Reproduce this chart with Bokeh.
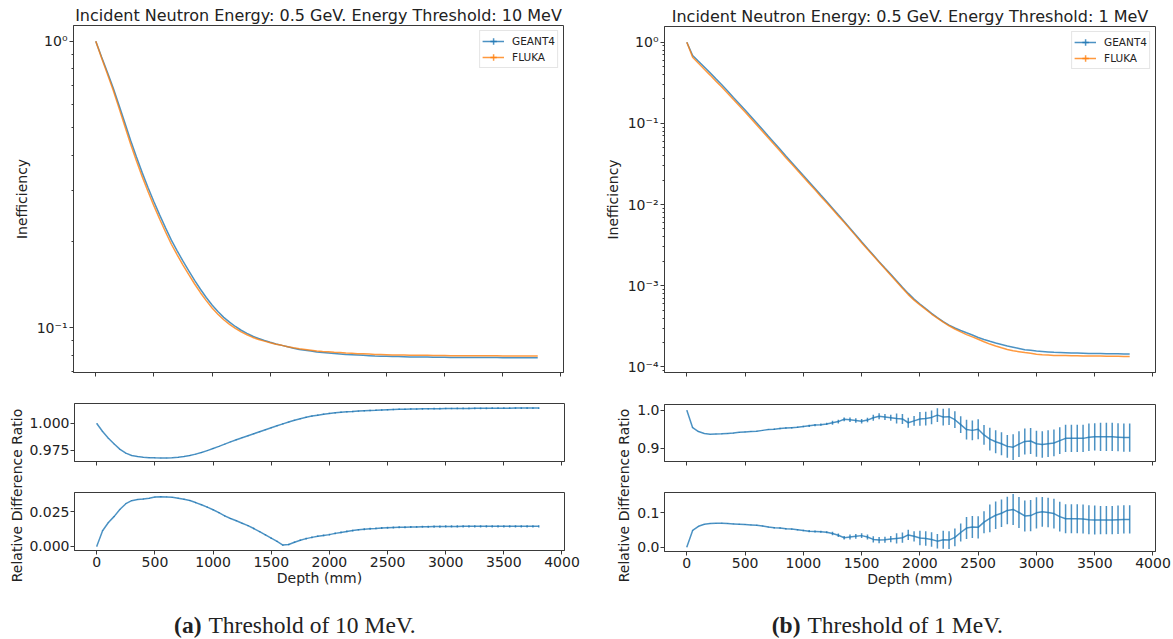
import numpy as np
from bokeh.plotting import figure
from bokeh.models import (Range1d, FixedTicker, CustomJSTickFormatter, Label,
                          Legend, LegendItem, Whisker, ColumnDataSource)
from bokeh.layouts import row, column
from bokeh.embed import file_html
from bokeh.resources import INLINE

# ---------------- data ----------------
DEPTH = [0, 50, 100, 150, 200, 250, 300, 350, 400, 450,
         500, 550, 600, 650, 700, 750, 800, 850, 900, 950,
         1000, 1050, 1100, 1150, 1200, 1250, 1300, 1350, 1400, 1450,
         1500, 1550, 1600, 1650, 1700, 1750, 1800, 1850, 1900, 1950,
         2000, 2050, 2100, 2150, 2200, 2250, 2300, 2350, 2400, 2450,
         2500, 2550, 2600, 2650, 2700, 2750, 2800, 2850, 2900, 2950,
         3000, 3050, 3100, 3150, 3200, 3250, 3300, 3350, 3400, 3450,
         3500, 3550, 3600, 3650, 3700, 3750, 3800]

# (a) threshold 10 MeV
A_GEANT4 = [1.0, 0.881, 0.780, 0.687, 0.598, 0.519, 0.450, 0.394, 0.347, 0.308,
            0.275, 0.247, 0.223, 0.202, 0.1854, 0.1706, 0.1578, 0.1462, 0.1361, 0.1274,
            0.1199, 0.1138, 0.1086, 0.1045, 0.1009, 0.0979, 0.0955, 0.0933, 0.0916, 0.0902,
            0.0889, 0.0877, 0.0867, 0.0857, 0.0847, 0.0839, 0.0834, 0.0828, 0.0822, 0.0818,
            0.0815, 0.0812, 0.0809, 0.0806, 0.0804, 0.0802, 0.0800, 0.0798, 0.0796, 0.0795,
            0.0794, 0.0793, 0.0792, 0.0791, 0.0790, 0.0790, 0.0789, 0.0789, 0.0788, 0.0788,
            0.0788, 0.0787, 0.0787, 0.0787, 0.0787, 0.0786, 0.0786, 0.0786, 0.0786, 0.0786,
            0.0785, 0.0785, 0.0785, 0.0785, 0.0785, 0.0785, 0.0785]
A_FLUKA = [1.0, 0.874, 0.769, 0.674, 0.584, 0.505, 0.4365, 0.3818, 0.336, 0.2981,
           0.2661, 0.2390, 0.2158, 0.1955, 0.1795, 0.1653, 0.1531, 0.1420, 0.1324, 0.1242,
           0.1171, 0.1114, 0.1065, 0.1027, 0.0994, 0.0966, 0.0944, 0.0924, 0.0909, 0.0897,
           0.0885, 0.0875, 0.0867, 0.0858, 0.0850, 0.0843, 0.0839, 0.0834, 0.0828, 0.0825,
           0.0823, 0.0820, 0.0818, 0.0815, 0.0813, 0.0811, 0.0810, 0.0808, 0.0806, 0.0805,
           0.0804, 0.0803, 0.0803, 0.0802, 0.0801, 0.0801, 0.0800, 0.0800, 0.0799, 0.0799,
           0.0799, 0.0798, 0.0798, 0.0798, 0.0798, 0.0797, 0.0797, 0.0797, 0.0797, 0.0797,
           0.0796, 0.0796, 0.0796, 0.0796, 0.0796, 0.0796, 0.0796]
A_RATIO = [1.0000, 0.9925, 0.9862, 0.9808, 0.9758, 0.9722, 0.9700, 0.9690, 0.9684, 0.9680,
           0.9678, 0.9677, 0.9677, 0.9679, 0.9683, 0.9690, 0.9700, 0.9713, 0.9728, 0.9746,
           0.9766, 0.9786, 0.9807, 0.9828, 0.9848, 0.9867, 0.9885, 0.9904, 0.9923, 0.9942,
           0.9960, 0.9978, 0.9996, 1.0013, 1.0031, 1.0045, 1.0058, 1.0069, 1.0078, 1.0087,
           1.0094, 1.0100, 1.0105, 1.0109, 1.0112, 1.0116, 1.0119, 1.0122, 1.0124, 1.0127,
           1.0129, 1.0131, 1.0133, 1.0134, 1.0135, 1.0136, 1.0137, 1.0138, 1.0139, 1.0139,
           1.0140, 1.0140, 1.0141, 1.0141, 1.0141, 1.0142, 1.0142, 1.0142, 1.0143, 1.0143,
           1.0143, 1.0143, 1.0144, 1.0144, 1.0144, 1.0144, 1.0144]
A_RATIO_ERR = [0.0002, 0.0002, 0.0002, 0.0002, 0.0002, 0.0002, 0.0003, 0.0003, 0.0003, 0.0003,
               0.0003, 0.0003, 0.0003, 0.0003, 0.0003, 0.0003, 0.0004, 0.0004, 0.0004, 0.0004,
               0.0004, 0.0004, 0.0004, 0.0004, 0.0004, 0.0004, 0.0005, 0.0005, 0.0005, 0.0005,
               0.0005, 0.0005, 0.0005, 0.0005, 0.0005, 0.0005, 0.0006, 0.0006, 0.0006, 0.0006,
               0.0006, 0.0006, 0.0006, 0.0006, 0.0006, 0.0006, 0.0007, 0.0007, 0.0007, 0.0007,
               0.0007, 0.0007, 0.0007, 0.0007, 0.0007, 0.0007, 0.0008, 0.0008, 0.0008, 0.0008,
               0.0008, 0.0008, 0.0008, 0.0008, 0.0008, 0.0008, 0.0008, 0.0008, 0.0008, 0.0008,
               0.0008, 0.0008, 0.0008, 0.0008, 0.0008, 0.0008, 0.0008]
A_DIFF = [0.0000, 0.0112, 0.0172, 0.0216, 0.0268, 0.0308, 0.0330, 0.0338, 0.0342, 0.0347,
          0.0356, 0.0358, 0.0357, 0.0354, 0.0348, 0.0340, 0.0331, 0.0316, 0.0300, 0.0283,
          0.0264, 0.0243, 0.0220, 0.0201, 0.0184, 0.0166, 0.0149, 0.0128, 0.0106, 0.0082,
          0.0058, 0.0035, 0.0008, 0.0012, 0.0029, 0.0043, 0.0055, 0.0064, 0.0072, 0.0078,
          0.0084, 0.0093, 0.0100, 0.0107, 0.0113, 0.0119, 0.0123, 0.0127, 0.0129, 0.0132,
          0.0134, 0.0136, 0.0137, 0.0138, 0.0139, 0.0140, 0.0141, 0.0141, 0.0142, 0.0142,
          0.0143, 0.0143, 0.0143, 0.0144, 0.0144, 0.0144, 0.0144, 0.0144, 0.0144, 0.0144,
          0.0144, 0.0144, 0.0144, 0.0144, 0.0144, 0.0144, 0.0144]
A_DIFF_ERR = [0.0002, 0.0002, 0.0002, 0.0002, 0.0002, 0.0002, 0.0003, 0.0003, 0.0003, 0.0003,
              0.0003, 0.0003, 0.0003, 0.0003, 0.0003, 0.0003, 0.0004, 0.0004, 0.0004, 0.0004,
              0.0004, 0.0004, 0.0004, 0.0004, 0.0004, 0.0004, 0.0005, 0.0005, 0.0005, 0.0005,
              0.0005, 0.0005, 0.0005, 0.0005, 0.0005, 0.0005, 0.0006, 0.0006, 0.0006, 0.0006,
              0.0006, 0.0006, 0.0006, 0.0006, 0.0006, 0.0006, 0.0007, 0.0007, 0.0007, 0.0007,
              0.0007, 0.0007, 0.0007, 0.0007, 0.0007, 0.0007, 0.0008, 0.0008, 0.0008, 0.0008,
              0.0008, 0.0008, 0.0008, 0.0008, 0.0008, 0.0008, 0.0008, 0.0008, 0.0008, 0.0008,
              0.0008, 0.0008, 0.0008, 0.0008, 0.0008, 0.0008, 0.0008]

# (b) threshold 1 MeV
B_GEANT4 = [1.0, 0.684, 0.582, 0.4955, 0.419, 0.353, 0.2985, 0.2506, 0.2089, 0.1746,
            0.1459, 0.1216, 0.1009, 0.0838, 0.0695, 0.0577, 0.0479, 0.0397, 0.0330, 0.0274,
            0.0228, 0.0190, 0.0158, 0.0131, 0.0109, 0.00902, 0.00746, 0.00618, 0.00511, 0.00422,
            0.00348, 0.00288, 0.00239, 0.00198, 0.00165, 0.00138, 0.00115, 0.000955, 0.000804, 0.000684,
            0.000596, 0.000521, 0.000457, 0.000405, 0.000361, 0.000327, 0.000301, 0.000281, 0.000263, 0.000247,
            0.000230, 0.000218, 0.000207, 0.000197, 0.000189, 0.000181, 0.000175, 0.000169, 0.000163, 0.000160,
            0.000157, 0.000155, 0.000153, 0.000151, 0.000150, 0.000149, 0.000148, 0.000148, 0.000147, 0.000146,
            0.000146, 0.000146, 0.000145, 0.000145, 0.000145, 0.000144, 0.000144]
B_FLUKA = [1.0, 0.653, 0.549, 0.465, 0.393, 0.331, 0.280, 0.2353, 0.1964, 0.1645,
           0.1376, 0.1148, 0.0954, 0.0794, 0.0660, 0.0548, 0.0456, 0.0378, 0.0315, 0.0262,
           0.0218, 0.0182, 0.0152, 0.0126, 0.0105, 0.00872, 0.00724, 0.00603, 0.00498, 0.00411,
           0.00338, 0.00281, 0.00234, 0.00195, 0.00162, 0.00135, 0.00112, 0.000933, 0.000777, 0.000665,
           0.000582, 0.000510, 0.000448, 0.000400, 0.000355, 0.000321, 0.000293, 0.000270, 0.000250, 0.000234,
           0.000219, 0.000204, 0.000191, 0.000181, 0.000172, 0.000164, 0.000158, 0.000154, 0.000150, 0.000147,
           0.000143, 0.000141, 0.000140, 0.000138, 0.000138, 0.000138, 0.000137, 0.000137, 0.000136, 0.000136,
           0.000136, 0.000136, 0.000135, 0.000135, 0.000135, 0.000134, 0.000134]
B_RATIO = [1.000, 0.954, 0.944, 0.939, 0.937, 0.9375, 0.938, 0.939, 0.940, 0.942,
           0.943, 0.944, 0.945, 0.947, 0.949, 0.950, 0.952, 0.953, 0.954, 0.955,
           0.957, 0.959, 0.961, 0.962, 0.964, 0.967, 0.970, 0.976, 0.975, 0.973,
           0.971, 0.974, 0.980, 0.984, 0.982, 0.980, 0.978, 0.977, 0.967, 0.972,
           0.977, 0.978, 0.981, 0.987, 0.982, 0.983, 0.975, 0.962, 0.949, 0.947,
           0.950, 0.935, 0.924, 0.917, 0.912, 0.905, 0.903, 0.911, 0.918, 0.919,
           0.912, 0.910, 0.912, 0.914, 0.920, 0.926, 0.926, 0.926, 0.926, 0.929,
           0.930, 0.930, 0.930, 0.930, 0.929, 0.928, 0.928]
B_RATIO_ERR = [0.0005, 0.0005, 0.0005, 0.0005, 0.0005, 0.0005, 0.001, 0.001, 0.001, 0.001,
               0.001, 0.001, 0.001, 0.001, 0.001, 0.002, 0.002, 0.002, 0.002, 0.002,
               0.002, 0.003, 0.003, 0.003, 0.003, 0.005, 0.005, 0.005, 0.006, 0.006,
               0.006, 0.006, 0.008, 0.008, 0.008, 0.008, 0.013, 0.013, 0.013, 0.013,
               0.018, 0.018, 0.018, 0.018, 0.022, 0.022, 0.022, 0.022, 0.026, 0.026,
               0.026, 0.026, 0.030, 0.030, 0.030, 0.030, 0.034, 0.034, 0.034, 0.034,
               0.034, 0.035, 0.035, 0.035, 0.035, 0.036, 0.036, 0.036, 0.036, 0.036,
               0.036, 0.037, 0.037, 0.037, 0.037, 0.037, 0.037]
B_DIFF = [0.000, 0.048, 0.060, 0.066, 0.068, 0.069, 0.069, 0.068, 0.067, 0.066,
          0.065, 0.064, 0.063, 0.061, 0.058, 0.056, 0.055, 0.053, 0.052, 0.050,
          0.048, 0.046, 0.045, 0.044, 0.043, 0.039, 0.034, 0.027, 0.029, 0.031,
          0.033, 0.029, 0.022, 0.020, 0.021, 0.023, 0.025, 0.027, 0.035, 0.031,
          0.026, 0.025, 0.022, 0.017, 0.021, 0.020, 0.028, 0.042, 0.055, 0.058,
          0.057, 0.072, 0.083, 0.092, 0.098, 0.106, 0.109, 0.100, 0.090, 0.091,
          0.099, 0.102, 0.100, 0.097, 0.088, 0.082, 0.082, 0.082, 0.081, 0.079,
          0.078, 0.078, 0.078, 0.078, 0.079, 0.080, 0.080]
B_DIFF_ERR = [0.0006, 0.0006, 0.0006, 0.0006, 0.0006, 0.0006, 0.0012, 0.0012, 0.0012, 0.0012,
              0.0012, 0.0012, 0.0012, 0.0012, 0.0012, 0.002, 0.002, 0.002, 0.002, 0.002,
              0.002, 0.003, 0.003, 0.003, 0.003, 0.005, 0.005, 0.005, 0.007, 0.007,
              0.007, 0.007, 0.009, 0.009, 0.009, 0.009, 0.015, 0.015, 0.015, 0.015,
              0.021, 0.021, 0.021, 0.021, 0.026, 0.026, 0.026, 0.026, 0.032, 0.032,
              0.032, 0.032, 0.040, 0.040, 0.040, 0.040, 0.045, 0.045, 0.045, 0.045,
              0.045, 0.043, 0.043, 0.043, 0.043, 0.042, 0.042, 0.042, 0.042, 0.042,
              0.042, 0.041, 0.041, 0.041, 0.041, 0.041, 0.041]

TITLES = ["Incident Neutron Energy: 0.5 GeV. Energy Threshold: 10 MeV",
          "Incident Neutron Energy: 0.5 GeV. Energy Threshold: 1 MeV"]
CAPTION_TAGS = ["(a)", "(b)"]
CAPTION_TEXTS = ["Threshold of 10 MeV.", "Threshold of 1 MeV."]
SERIES_NAMES = ["GEANT4", "FLUKA"]
X_TICKS = [0, 500, 1000, 1500, 2000, 2500, 3000, 3500, 4000]

for arr in [A_GEANT4, A_FLUKA, A_RATIO, A_RATIO_ERR, A_DIFF, A_DIFF_ERR,
            B_GEANT4, B_FLUKA, B_RATIO, B_RATIO_ERR, B_DIFF, B_DIFF_ERR]:
    assert len(arr) == len(DEPTH), len(arr)

# ---------------- style ----------------
FONT = "DejaVu Sans"
SERIF = "Liberation Serif"
TXT = "#222222"
SPINE = "#3a3a3a"
BLUE = "#1f77b4"
ORANGE = "#ff7f0e"
ALPHA = 0.8
X_RANGE = (-191.5, 4021.5)

LOG_FMT = CustomJSTickFormatter(code=r"""
const e = Math.round(Math.log10(tick));
const sup = {"-": "\u207b", "0": "\u2070", "1": "\u00b9", "2": "\u00b2", "3": "\u00b3",
             "4": "\u2074", "5": "\u2075", "6": "\u2076"};
let s = "";
for (const c of String(e)) { s += sup[c]; }
return "10" + s;
""")
EMPTY_FMT = CustomJSTickFormatter(code="return '';")


def make_fig(fw, fh, yr, log, bl, br, bt, bb, xlabels):
    p = figure(frame_width=fw, frame_height=fh,
               x_range=Range1d(*X_RANGE), y_range=Range1d(*yr),
               y_axis_type="log" if log else "linear",
               output_backend="svg", toolbar_location=None,
               min_border_left=bl, min_border_right=br,
               min_border_top=bt, min_border_bottom=bb,
               background_fill_color="white", border_fill_color="white")
    p.outline_line_color = SPINE
    p.outline_line_width = 1
    p.grid.visible = False
    for ax in (p.xaxis[0], p.yaxis[0]):
        ax.axis_line_color = SPINE
        ax.major_tick_line_color = SPINE
        ax.major_tick_out = 4
        ax.major_tick_in = 0
        ax.minor_tick_line_color = None
        ax.major_label_text_font = FONT
        ax.major_label_text_font_size = "14px"
        ax.major_label_text_color = TXT
        ax.axis_label_text_font = FONT
        ax.axis_label_text_font_size = "14px"
        ax.axis_label_text_font_style = "normal"
        ax.axis_label_text_color = TXT
    xa = p.xaxis[0]
    xa.ticker = FixedTicker(ticks=X_TICKS)
    if xlabels:
        xa.major_label_standoff = 2
        xa.axis_label = "Depth (mm)"
        xa.axis_label_standoff = 0
    else:
        xa.formatter = EMPTY_FMT
        xa.major_label_standoff = 0
    p.yaxis[0].major_label_standoff = 1
    return p


def text_fig(w, h):
    p = figure(width=w, height=h, x_range=Range1d(0, w), y_range=Range1d(0, h),
               output_backend="svg", toolbar_location=None,
               x_axis_location=None, y_axis_location=None,
               min_border_left=0, min_border_right=0, min_border_top=0, min_border_bottom=0,
               background_fill_color="white", border_fill_color="white")
    p.outline_line_color = None
    p.grid.visible = False
    return p


def add_text(p, text, x, y, size="14px", angle=0.0, align="center",
             font=FONT, style="normal"):
    p.add_layout(Label(x=x, y=y, text=text, angle=angle, text_align=align,
                       text_baseline="middle", text_font=font, text_font_size=size,
                       text_font_style=style, text_color=TXT))


def errorbars(p, vals, errs, color):
    v = np.array(vals)
    e = np.array(errs)
    src = ColumnDataSource(dict(x=DEPTH, lo=v - e, hi=v + e))
    p.add_layout(Whisker(source=src, base="x", lower="lo", upper="hi",
                         dimension="height", line_color=color, line_alpha=ALPHA,
                         line_width=1.5, upper_head=None, lower_head=None))


def panel(idx, g4, fl, ratio, ratio_err, diff, diff_err, geo):
    br, fw = geo["br"], geo["fw"]
    # main inefficiency plot
    m = make_fig(fw, geo["mh"], geo["main_range"], True, geo["bl"], br, geo["mt"], 26, False)
    ya = m.yaxis[0]
    ya.ticker = FixedTicker(ticks=geo["main_ticks"], minor_ticks=geo["main_minor"])
    ya.formatter = LOG_FMT
    ya.minor_tick_line_color = SPINE
    ya.minor_tick_out = 2
    ya.minor_tick_in = 0
    ya.major_label_standoff = 2
    ya.axis_label = "Inefficiency"
    ya.axis_label_standoff = geo["ineff_standoff"]
    m.title.text = TITLES[idx]
    m.title.align = "center"
    m.title.text_font = FONT
    m.title.text_font_size = "16px"
    m.title.text_font_style = "normal"
    m.title.text_color = TXT
    m.title.standoff = 1
    r1 = m.line(DEPTH, g4, line_color=BLUE, line_alpha=ALPHA, line_width=1.5)
    r2 = m.line(DEPTH, fl, line_color=ORANGE, line_alpha=ALPHA, line_width=1.5)
    c1 = m.scatter(x=[-1e6], y=[geo["main_range"][1]], marker="cross", size=12,
                   line_color=BLUE, line_alpha=ALPHA, line_width=1.5)
    c2 = m.scatter(x=[-1e6], y=[geo["main_range"][1]], marker="cross", size=12,
                   line_color=ORANGE, line_alpha=ALPHA, line_width=1.5)
    leg = Legend(items=[LegendItem(label=SERIES_NAMES[0], renderers=[r1, c1]),
                        LegendItem(label=SERIES_NAMES[1], renderers=[r2, c2])],
                 location="top_right", margin=5, padding=2, spacing=0,
                 glyph_width=22, glyph_height=16, label_height=16, label_standoff=8,
                 label_text_font=FONT, label_text_font_size="10.5px",
                 label_text_color=TXT, border_line_color="#cccccc",
                 background_fill_color="white", background_fill_alpha=0.8)
    m.add_layout(leg)

    # ratio plot
    r = make_fig(fw, geo["rh"], geo["ratio_range"], False, geo["bl2"], br, geo["rt"], 26, False)
    r.yaxis[0].ticker = FixedTicker(ticks=geo["ratio_ticks"])
    r.yaxis[0].formatter = CustomJSTickFormatter(code="return tick.toFixed(%d);" % geo["dec_r"])
    r.line(DEPTH, ratio, line_color=BLUE, line_alpha=ALPHA, line_width=1.5)
    errorbars(r, ratio, ratio_err, BLUE)

    # relative difference plot
    d = make_fig(fw, geo["dh"], geo["diff_range"], False, geo["bl2"], br, geo["dt"], geo["db"], True)
    d.yaxis[0].ticker = FixedTicker(ticks=geo["diff_ticks"])
    d.yaxis[0].formatter = CustomJSTickFormatter(code="return tick.toFixed(%d);" % geo["dec_d"])
    d.line(DEPTH, diff, line_color=BLUE, line_alpha=ALPHA, line_width=1.5)
    errorbars(d, diff, diff_err, BLUE)

    # shared label strip for the two lower plots
    strip_h = (geo["rt"] + geo["rh"] + 26) + (geo["dt"] + geo["dh"] + geo["db"])
    s = text_fig(geo["strip_w"], strip_h)
    add_text(s, "Relative Difference Ratio", geo["rd_x"], geo["rd_y"], angle=np.pi / 2)
    return column(m, row(s, column(r, d)))


LEFT_MINOR = [0.07, 0.08, 0.09, 0.2, 0.3, 0.4, 0.5, 0.6, 0.7, 0.8, 0.9]
RIGHT_MINOR = [k * 10.0 ** e for e in range(-5, 0) for k in range(2, 10)]

geo_a = dict(bl=73, bl2=47, strip_w=26, br=27, fw=490,
             mt=25, mh=347, rt=5, rh=58, dt=5, dh=58, db=40,
             main_range=(0.0697, 1.135), main_ticks=[0.1, 1.0], main_minor=LEFT_MINOR,
             ratio_range=(0.9644, 1.0187), ratio_ticks=[0.975, 1.0], dec_r=3,
             diff_range=(-0.0031, 0.0389), diff_ticks=[0.0, 0.025], dec_d=3,
             ineff_standoff=4, rd_x=16, rd_y=95)
geo_b = dict(bl=73, bl2=33, strip_w=40, br=19, fw=491,
             mt=26, mh=346, rt=6, rh=57, dt=5, dh=59, db=39,
             main_range=(8.53e-5, 1.56), main_ticks=[1e-4, 1e-3, 1e-2, 1e-1, 1.0],
             main_minor=RIGHT_MINOR,
             ratio_range=(0.8653, 1.0149), ratio_ticks=[0.9, 1.0], dec_r=1,
             diff_range=(-0.013, 0.158), diff_ticks=[0.0, 0.1], dec_d=1,
             ineff_standoff=4, rd_x=32, rd_y=95)

left = panel(0, A_GEANT4, A_FLUKA, A_RATIO, A_RATIO_ERR, A_DIFF, A_DIFF_ERR, geo_a)
right = panel(1, B_GEANT4, B_FLUKA, B_RATIO, B_RATIO_ERR, B_DIFF, B_DIFF_ERR, geo_b)

# caption strip under both panels
cap = text_fig(1173, 49)
add_text(cap, CAPTION_TAGS[0], 201, 14.5, size="23.5px", align="right", font=SERIF, style="bold")
add_text(cap, CAPTION_TEXTS[0], 208, 14.5, size="23.5px", align="left", font=SERIF)
add_text(cap, CAPTION_TAGS[1], 800, 14.5, size="23.5px", align="right", font=SERIF, style="bold")
add_text(cap, CAPTION_TEXTS[1], 807, 14.5, size="23.5px", align="left", font=SERIF)

layout = column(row(left, right), cap)

open("out.html", "w").write(file_html(layout, INLINE, title="Inefficiency vs depth"))
